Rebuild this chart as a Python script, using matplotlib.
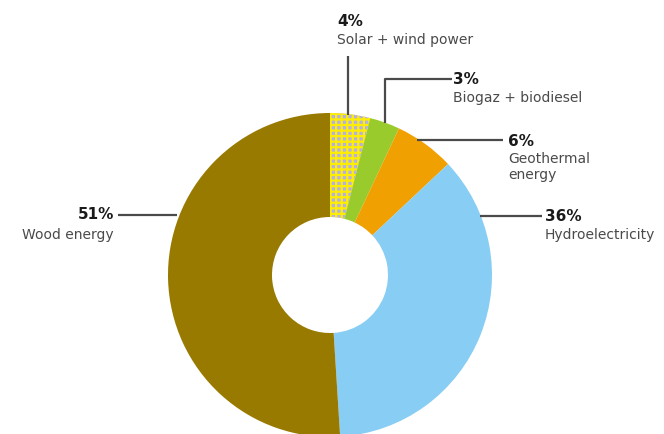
import matplotlib.pyplot as plt

# shares, clockwise from the top
labels = ["Solar + wind power", "Biogaz + biodiesel", "Geothermal\nenergy", "Hydroelectricity", "Wood energy"]
shares = [4, 3, 6, 36, 51]
colors = ["#b4b0e4", "#9acb2c", "#f0a000", "#88cdf4", "#997a00"]

plt.rcParams['hatch.linewidth'] = 1.6

W, H = 664, 435
fig = plt.figure(figsize=(W / 100, H / 100), dpi=100)
ax = fig.add_axes([0, 0, 1, 1])
ax.set_xlim(0, W)
ax.set_ylim(0, H)
ax.set_aspect('equal')
ax.axis('off')

cx, cy, r = 330, H - 276, 162
wedges, _ = ax.pie(shares, colors=colors, startangle=90, counterclock=False,
                   center=(cx, cy), radius=r, frame=True,
                   wedgeprops=dict(width=r - 58, linewidth=0))
ax.set_xlim(0, W)
ax.set_ylim(0, H)
ax.axis('off')

# dotted pattern on the solar + wind slice
wedges[0].set_hatch('+++')
wedges[0].set_edgecolor('#ffee00')
wedges[0].set_linewidth(0)

line_kw = dict(color="#4a4a4a", lw=1.6, solid_capstyle='butt')
def py(y):
    return H - y

# leader lines (pixel positions)
ax.plot([348, 348], [py(57), py(116)], **line_kw)
ax.plot([385, 385, 452], [py(124), py(80), py(80)], **line_kw)
ax.plot([417, 503], [py(141), py(141)], **line_kw)
ax.plot([480, 542], [py(217), py(217)], **line_kw)
ax.plot([118, 177], [py(216), py(216)], **line_kw)

pct_kw = dict(fontsize=11, fontweight='bold', color="#1a1a1a", va='center')
lab_kw = dict(fontsize=10, color="#4a4a4a", va='top', linespacing=1.15)

ax.text(337, py(22), f"{shares[0]}%", ha='left', **pct_kw)
ax.text(337, py(33), labels[0], ha='left', **lab_kw)
ax.text(453, py(80), f"{shares[1]}%", ha='left', **pct_kw)
ax.text(453, py(91), labels[1], ha='left', **lab_kw)
ax.text(508, py(141), f"{shares[2]}%", ha='left', **pct_kw)
ax.text(508, py(152), labels[2], ha='left', **lab_kw)
ax.text(545, py(217), f"{shares[3]}%", ha='left', **pct_kw)
ax.text(545, py(228), labels[3], ha='left', **lab_kw)
ax.text(114, py(215), f"{shares[4]}%", ha='right', **pct_kw)
ax.text(114, py(228), labels[4], ha='right', **lab_kw)

fig.savefig("out.png", dpi=100)
